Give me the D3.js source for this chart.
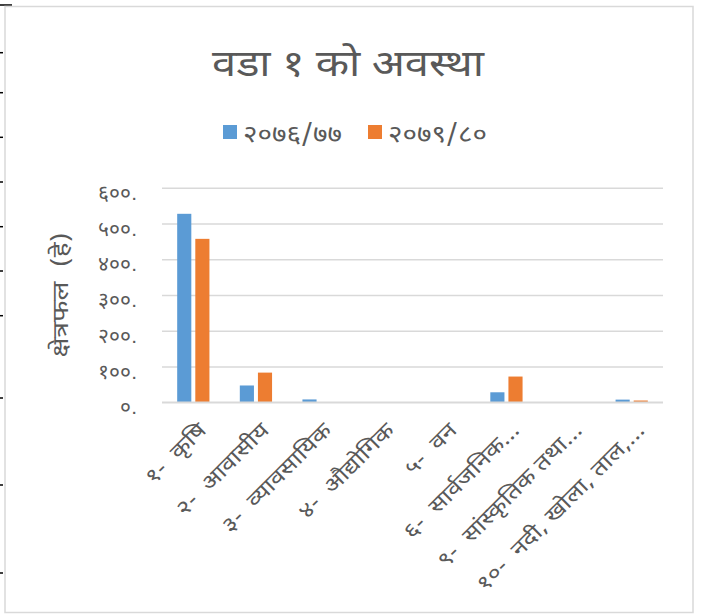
<!DOCTYPE html>
<html>
<head>
<meta charset="utf-8">
<script src="https://cdn.jsdelivr.net/npm/d3@7"></script>
<style>
  html, body { margin: 0; padding: 0; background: #fff; }
  svg { display: block; font-family: "Noto Sans Devanagari", "Noto Sans", sans-serif; }
  text { white-space: pre; }
</style>
</head>
<body>
<div id="chart"></div>
<script>
// ─── data ────────────────────────────────────────────────────────────────────
const categories = [
  "१-  कृषि",
  "२-  आवासीय",
  "३-  व्यावसायिक",
  "४-  औद्योगिक",
  "५-  वन",
  "६-  सार्वजनिक…",
  "९-  सांस्कृतिक तथा…",
  "१०-  नदी, खोला, ताल,…"
];
const seriesNames = ["२०७६/७७", "२०७९/८०"];
const values7677 = [527, 47, 8, 0, 0, 28, 0, 7.5];
const values7980 = [457, 83, 0, 0, 0, 72, 0, 5];
const yTicks = [0, 100, 200, 300, 400, 500, 600];
const yTickLabels = ["०.", "१००.", "२००.", "३००.", "४००.", "५००.", "६००."];
const title = "वडा १ को अवस्था";
const yTitle = "क्षेत्रफल  (हे)";

const COLOR_BLUE = "#5b9bd5";
const COLOR_ORANGE = "#ed7d31";
const COLOR_TEXT = "#595959";
const COLOR_GRID = "#d9d9d9";

const width = 703, height = 616;
const plot = { left: 162, right: 663, top: 187.7, bottom: 402.3 };

const svg = d3.select("#chart").append("svg")
    .attr("width", width)
    .attr("height", height);

svg.append("rect").attr("width", width).attr("height", height).attr("fill", "#fff");

// spreadsheet row marks peeking out on the left
[52.7, 92.7, 137.3, 182, 226.7, 271, 315.7, 398, 485, 573].forEach(y => {
  svg.append("line").attr("x1", 0).attr("x2", 3).attr("y1", y).attr("y2", y)
     .attr("stroke", "#000").attr("stroke-width", 1.5);
});
svg.append("line").attr("x1", 0).attr("x2", 12).attr("y1", 5).attr("y2", 5)
   .attr("stroke", "#000").attr("stroke-width", 1.5);

// chart frame
svg.append("rect")
   .attr("x", 5).attr("y", 6.5).attr("width", 688).attr("height", 606)
   .attr("fill", "#fff").attr("stroke", COLOR_GRID).attr("stroke-width", 1.5);

// ─── scales ──────────────────────────────────────────────────────────────────
const x0 = d3.scaleBand()
    .domain(categories)
    .range([plot.left, plot.right])
    .paddingInner(0.485)
    .paddingOuter(0.2425);

const x1 = d3.scaleBand()
    .domain(seriesNames)
    .range([0, x0.bandwidth()])
    .paddingInner(0.22);

const y = d3.scaleLinear().domain([0, 600]).range([plot.bottom, plot.top]);

const color = d3.scaleOrdinal().domain(seriesNames).range([COLOR_BLUE, COLOR_ORANGE]);

// gridlines + tick labels
const yAxis = d3.axisLeft(y)
    .tickValues(yTicks)
    .tickSize(-(plot.right - plot.left))
    .tickFormat((d, i) => yTickLabels[i]);

const gy = svg.append("g")
    .attr("transform", `translate(${plot.left},0)`)
    .call(yAxis);
gy.select(".domain").remove();
gy.selectAll(".tick line").attr("stroke", COLOR_GRID).attr("stroke-width", 1.5);
gy.selectAll(".tick text")
    .attr("x", -25)
    .attr("dy", "0.55em")
    .attr("fill", COLOR_TEXT)
    .style("font-size", "21px");

// bars
const rows = categories.map((c, i) => ({ cat: c, vals: [values7677[i], values7980[i]] }));

const groups = svg.append("g").selectAll("g")
    .data(rows)
    .join("g")
    .attr("transform", d => `translate(${x0(d.cat)},0)`);

groups.selectAll("rect")
    .data(d => d.vals.map((v, j) => ({ key: seriesNames[j], v })))
    .join("rect")
    .attr("x", d => x1(d.key))
    .attr("width", x1.bandwidth())
    .attr("y", d => y(d.v))
    .attr("height", d => y(0) - y(d.v))
    .attr("fill", d => color(d.key));

// x axis baseline
svg.append("line")
   .attr("x1", plot.left).attr("x2", plot.right)
   .attr("y1", y(0)).attr("y2", y(0))
   .attr("stroke", COLOR_GRID).attr("stroke-width", 1.5);

// category labels, rotated
svg.append("g").selectAll("text")
    .data(categories)
    .join("text")
    .attr("transform", d => `translate(${x0(d) + x0.bandwidth() / 2 + 9},${plot.bottom + 24}) rotate(-45) scale(1.22,1)`)
    .attr("text-anchor", "end")
    .attr("dy", "0.35em")
    .attr("fill", COLOR_TEXT)
    .style("font-size", "21px")
    .text(d => d);

// title
svg.append("text")
   .attr("x", 348).attr("y", 76)
   .attr("text-anchor", "middle")
   .attr("fill", COLOR_TEXT)
   .attr("textLength", 272)
   .attr("lengthAdjust", "spacingAndGlyphs")
   .style("font-size", "37px")
   .text(title);

// y axis title
svg.append("text")
   .attr("transform", `translate(68,${(plot.top + plot.bottom) / 2}) rotate(-90)`)
   .attr("text-anchor", "middle")
   .attr("fill", COLOR_TEXT)
   .attr("textLength", 125)
   .attr("lengthAdjust", "spacingAndGlyphs")
   .style("font-size", "22px")
   .text(yTitle);

// legend
const legendX = [223, 368];
const legend = svg.append("g").selectAll("g")
    .data(seriesNames)
    .join("g")
    .attr("transform", (d, i) => `translate(${legendX[i]},125)`);
legend.append("rect").attr("width", 14).attr("height", 14).attr("fill", d => color(d));
legend.append("text")
    .attr("x", 20).attr("y", 9).attr("dy", "0.35em")
    .attr("fill", COLOR_TEXT)
    .attr("textLength", 99)
    .attr("lengthAdjust", "spacingAndGlyphs")
    .style("font-size", "24px")
    .text(d => d);
</script>
</body>
</html>
